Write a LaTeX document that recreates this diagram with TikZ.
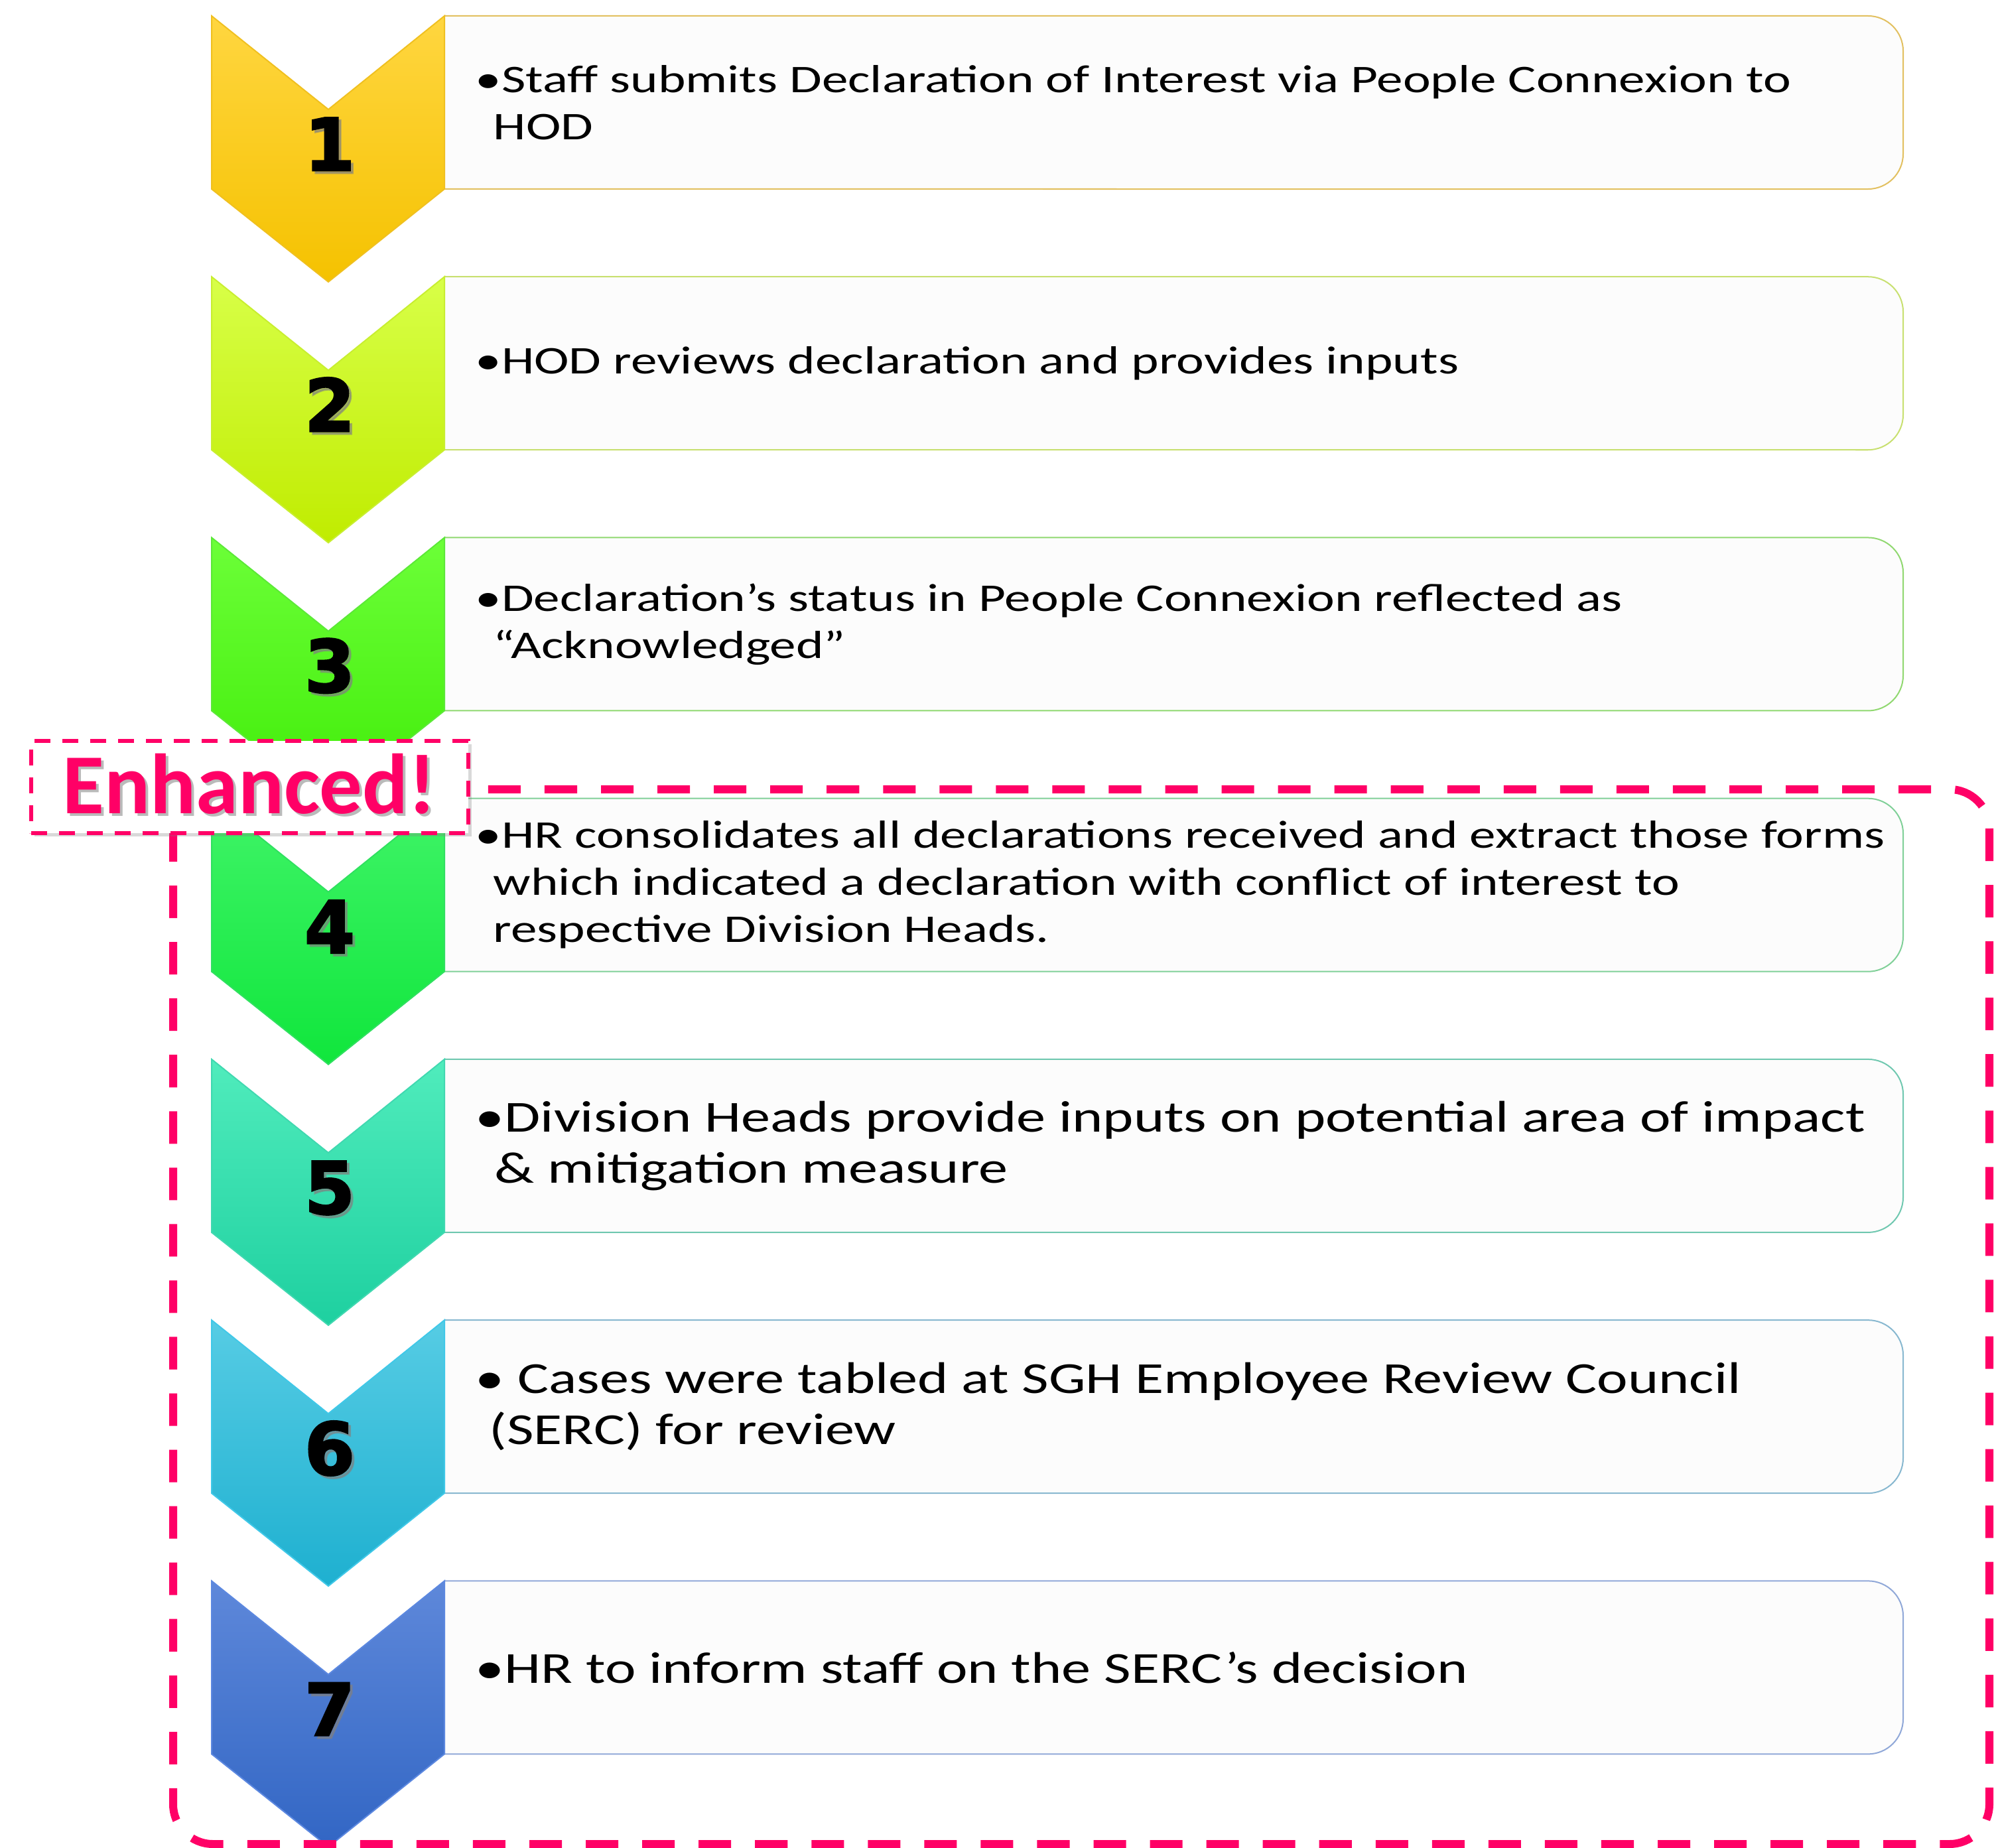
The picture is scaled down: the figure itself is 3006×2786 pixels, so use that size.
\documentclass[tikz,border=0pt]{standalone}
\usepackage{fontspec}
\newfontfamily\calibA[FakeStretch=1.34]{Carlito}
\newfontfamily\calibB[FakeStretch=1.32]{Carlito}
\newfontfamily\enhfont{Carlito}
\newfontfamily\numfont{DejaVu Sans}[BoldFeatures={FakeBold=2.5}]
\usetikzlibrary{shadows}
\definecolor{magentaE}{HTML}{FF0066}
\definecolor{boxfill}{HTML}{FCFCFC}
\definecolor{cAt}{HTML}{FFD640}\definecolor{cAb}{HTML}{F5C200}\definecolor{cAe}{HTML}{F0C020}\definecolor{cAx}{HTML}{E2C060}
\definecolor{cBt}{HTML}{D8FF48}\definecolor{cBb}{HTML}{C0EC00}\definecolor{cBe}{HTML}{C8EE30}\definecolor{cBx}{HTML}{C8E070}
\definecolor{cCt}{HTML}{6CFF38}\definecolor{cCb}{HTML}{40EC08}\definecolor{cCe}{HTML}{5CE838}\definecolor{cCx}{HTML}{90D870}
\definecolor{cDt}{HTML}{40F468}\definecolor{cDb}{HTML}{10E63C}\definecolor{cDe}{HTML}{30E060}\definecolor{cDx}{HTML}{80D098}
\definecolor{cEt}{HTML}{50ECBC}\definecolor{cEb}{HTML}{1ED0A0}\definecolor{cEe}{HTML}{40D8B0}\definecolor{cEx}{HTML}{70C8B0}
\definecolor{cFt}{HTML}{56CCE4}\definecolor{cFb}{HTML}{1EB0D0}\definecolor{cFe}{HTML}{40C8E8}\definecolor{cFx}{HTML}{88B8D0}
\definecolor{cGt}{HTML}{5E88DA}\definecolor{cGb}{HTML}{3266C4}\definecolor{cGe}{HTML}{5C88E0}\definecolor{cGx}{HTML}{90A8D8}
\tikzset{
  chev/.style={line width=0.02cm, line join=miter},
  tbox/.style={fill=boxfill, line width=0.02cm},
  numtxt/.style={anchor=base, inner sep=0pt, font=\numfont\bfseries\fontsize{31}{31}\selectfont, text=black},
  numshadow/.style={numtxt, text=black!50, opacity=0.6},
  steptext/.style={anchor=west, inner sep=0pt, align=left, text=black},
  fsA/.style={font=\calibA\fontsize{16.8}{20.2}\selectfont},
  fsB/.style={font=\calibB\fontsize{19}{21.9}\selectfont},
  bigdash/.style={draw=magentaE, line width=0.12cm, dash pattern=on 0.49cm off 0.36cm},
  enhbox/.style={draw=magentaE, fill=white, line width=0.06cm, dash pattern=on 0.24cm off 0.18cm,
    minimum width=6.59cm, minimum height=1.39cm, inner sep=0pt,
    drop shadow={shadow xshift=0.05cm, shadow yshift=-0.05cm, opacity=0.3}},
  enhtext/.style={anchor=base, inner sep=0pt, font=\enhfont\bfseries\fontsize{36.6}{36.6}\selectfont, text=magentaE},
  enhshadow/.style={enhtext, text=black!45, opacity=0.6},
}
% #1 index, #2 name, #3 top, #4 bottom, #5 chevron edge, #6 box edge, #7 number, #8 font style, #9 text
\newcommand\drawrow[9]{%
  \begin{scope}[yshift={-3.93cm*#1}]
    \path[tbox, draw=#6] (670,-24) -- (2816,-24) arc[start angle=90,end angle=0,radius=0.53cm]
      -- (2869,-232) arc[start angle=0,end angle=-90,radius=0.53cm] -- (670,-285);
    \path[chev, top color=#3, bottom color=#4, draw=#5]
      (319,-24) -- (495,-165) -- (670,-24) -- (670,-285) -- (495,-425) -- (319,-285) -- cycle;
    \node[numshadow] (s#2) at (501,-261) {#7};
    \node[numtxt] (n#2) at (497,-257) {#7};
    \node[steptext,#8] (t#2) at (716,-154.5) {#9};
  \end{scope}}
\begin{document}
\begin{tikzpicture}[x=0.01cm,y=0.01cm]
\useasboundingbox (0,0) rectangle (3006,-2786);
\drawrow{0}{a}{cAt}{cAb}{cAe}{cAx}{1}{fsA}{•Staff submits Declaration of Interest via People Connexion to\\\hspace*{0.27cm}HOD}
\drawrow{1}{b}{cBt}{cBb}{cBe}{cBx}{2}{fsA}{•HOD reviews declaration and provides inputs}
\drawrow{2}{c}{cCt}{cCb}{cCe}{cCx}{3}{fsA}{•Declaration’s status in People Connexion reflected as\\\hspace*{0.27cm}“Acknowledged”}
\drawrow{3}{d}{cDt}{cDb}{cDe}{cDx}{4}{fsA}{•HR consolidates all declarations received and extract those forms\\\hspace*{0.27cm}which indicated a declaration with conflict of interest to\\\hspace*{0.27cm}respective Division Heads.}
\drawrow{4}{e}{cEt}{cEb}{cEe}{cEx}{5}{fsB}{•Division Heads provide inputs on potential area of impact\\\hspace*{0.29cm}\&~mitigation measure}
\drawrow{5}{f}{cFt}{cFb}{cFe}{cFx}{6}{fsB}{• Cases were tabled at SGH Employee Review Council\\\hspace*{0.21cm}(SERC) for review}
\drawrow{6}{g}{cGt}{cGb}{cGe}{cGx}{7}{fsB}{•HR to inform staff on the SERC’s decision}
\draw[bigdash, rounded corners=0.6cm] (261,-1190) rectangle (2999,-2780);
\node[enhbox] (enh) at (376.5,-1186.5) {};
\node[enhshadow] (enhs) at (380,-1231) {Enhanced!};
\node[enhtext] (enht) at (376,-1227) {Enhanced!};
\end{tikzpicture}
\end{document}
